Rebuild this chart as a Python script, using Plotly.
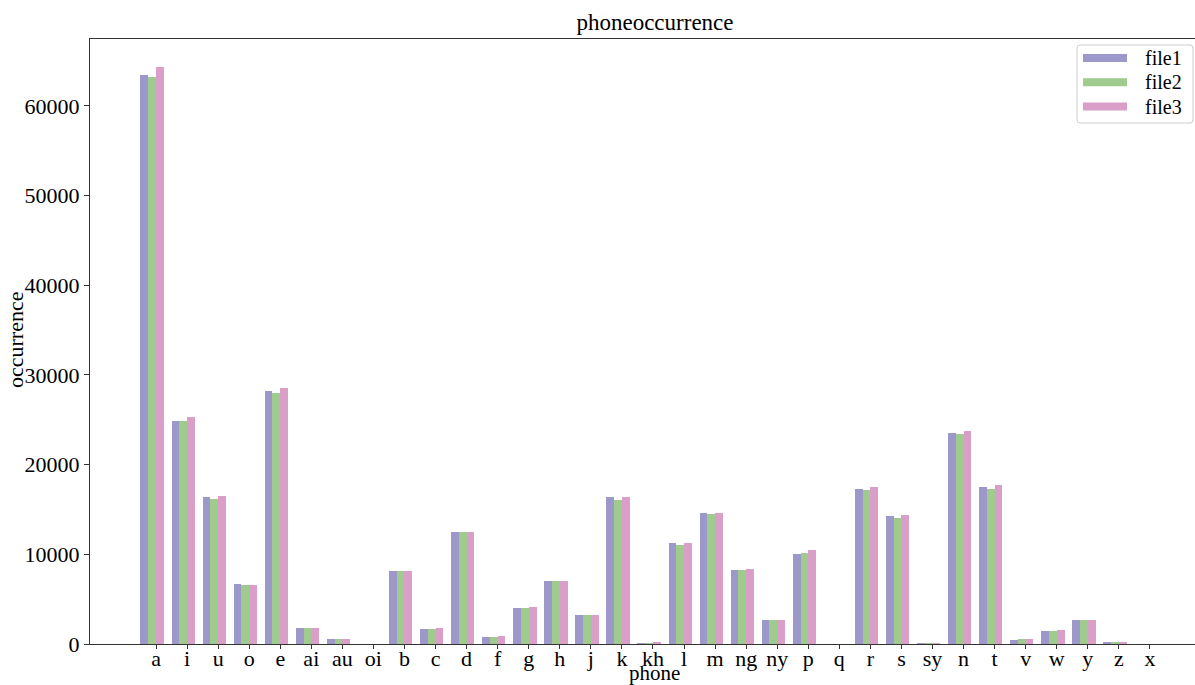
import plotly.graph_objects as go

phones = ["a", "i", "u", "o", "e", "ai", "au", "oi", "b", "c", "d", "f", "g", "h",
          "j", "k", "kh", "l", "m", "ng", "ny", "p", "q", "r", "s", "sy", "n", "t",
          "v", "w", "y", "z", "x"]

file1 = [63500, 24900, 16370, 6640, 28240, 1780, 590, 0, 8090, 1670, 12470, 810,
         4040, 7010, 3190, 16400, 110, 11250, 14660, 8270, 2700, 10080, 0, 17330,
         14290, 110, 23500, 17520, 450, 1400, 2700, 260, 0]
file2 = [63200, 24900, 16150, 6530, 28020, 1780, 590, 0, 8160, 1670, 12500, 810,
         4040, 7010, 3260, 16100, 110, 11060, 14550, 8270, 2700, 10170, 0, 17150,
         14030, 110, 23390, 17260, 560, 1400, 2700, 150, 0]
file3 = [64300, 25280, 16550, 6530, 28510, 1780, 590, 0, 8160, 1780, 12500, 920,
         4150, 7010, 3190, 16400, 230, 11250, 14660, 8350, 2700, 10470, 0, 17520,
         14370, 110, 23750, 17710, 560, 1510, 2700, 150, 0]

y_ticks = [0, 10000, 20000, 30000, 40000, 50000, 60000]

series = [("file1", file1, "#9c98c9"), ("file2", file2, "#9fcb8f"), ("file3", file3, "#d99fc8")]
offsets = [-0.375, -0.125, 0.125]
bar_w = 0.25

FONT = "Liberation Serif, Times New Roman, serif"
W, H = 1195, 685
L, R, T, B = 90, 0, 39, 41
PW, PH = W - L - R, H - T - B


def px(x):
    """horizontal pixel -> paper coordinate"""
    return (x - L) / PW


def py(y):
    """vertical pixel (from top) -> paper coordinate"""
    return (H - B - y) / PH


fig = go.Figure()
idx = list(range(len(phones)))
for (name, vals, color), off in zip(series, offsets):
    fig.add_trace(go.Bar(
        x=[i + off for i in idx], y=vals, width=bar_w, name=name,
        marker=dict(color=color, line=dict(width=0)),
        showlegend=False,
    ))

# legend box with wide colour keys
shapes = [dict(type="path", xref="paper", yref="paper", layer="above",
               path=("M {x0},{y0} L {x1},{y0} Q {x1r},{y0} {x1r},{y0d} L {x1r},{y1u} "
                     "Q {x1r},{y1} {x1},{y1} L {x0},{y1} Q {x0l},{y1} {x0l},{y1u} "
                     "L {x0l},{y0d} Q {x0l},{y0} {x0},{y0} Z").format(
                   x0=px(1080), x1=px(1190), x0l=px(1077), x1r=px(1193),
                   y0=py(45), y0d=py(48), y1=py(123), y1u=py(120)),
               line=dict(color="#cccccc", width=1), fillcolor="rgba(255,255,255,0.8)")]
annotations = []
for k, (name, vals, color) in enumerate(series):
    yc = 58 + k * 24.3
    shapes.append(dict(type="rect", xref="paper", yref="paper", layer="above",
                       x0=px(1083), x1=px(1127), y0=py(yc + 4), y1=py(yc - 4),
                       line=dict(width=0), fillcolor=color))
    annotations.append(dict(text=name, xref="paper", yref="paper", x=px(1143), y=py(yc),
                            xanchor="left", yanchor="middle", showarrow=False,
                            font=dict(family=FONT, size=20)))

annotations += [
    dict(text="phone", xref="paper", yref="paper", x=px(654), y=py(673),
         xanchor="center", yanchor="middle", showarrow=False,
         font=dict(family=FONT, size=21)),
    dict(text="occurrence", xref="paper", yref="paper", x=px(15), y=py(340),
         xanchor="center", yanchor="middle", textangle=-90, showarrow=False,
         font=dict(family=FONT, size=22)),
]

fig.update_layout(
    width=W, height=H,
    margin=dict(l=L, r=R, t=T, b=B),
    paper_bgcolor="white", plot_bgcolor="white",
    font=dict(family=FONT, size=22, color="black"),
    title=dict(text="phoneoccurrence", x=px(655), xref="paper", xanchor="center",
               y=1 - 22 / H, yanchor="middle", font=dict(family=FONT, size=23)),
    bargap=0,
    showlegend=False,
    shapes=shapes,
    annotations=annotations,
    xaxis=dict(
        range=[-2.125, 33.45], tickmode="array", tickvals=idx, ticktext=phones,
        ticks="outside", ticklen=4, tickcolor="#333", showgrid=False, zeroline=False,
        showline=True, linecolor="#333", linewidth=1, mirror=True,
        tickfont=dict(family=FONT, size=22), ticklabelstandoff=-9,
    ),
    yaxis=dict(
        range=[0, 67470], tickmode="array", tickvals=y_ticks,
        ticktext=[str(v) for v in y_ticks],
        ticks="outside", ticklen=5, tickcolor="#333", showgrid=False, zeroline=False,
        showline=True, linecolor="#333", linewidth=1, mirror=False,
        tickfont=dict(family=FONT, size=22),
    ),
)

fig.write_html("out.html")
